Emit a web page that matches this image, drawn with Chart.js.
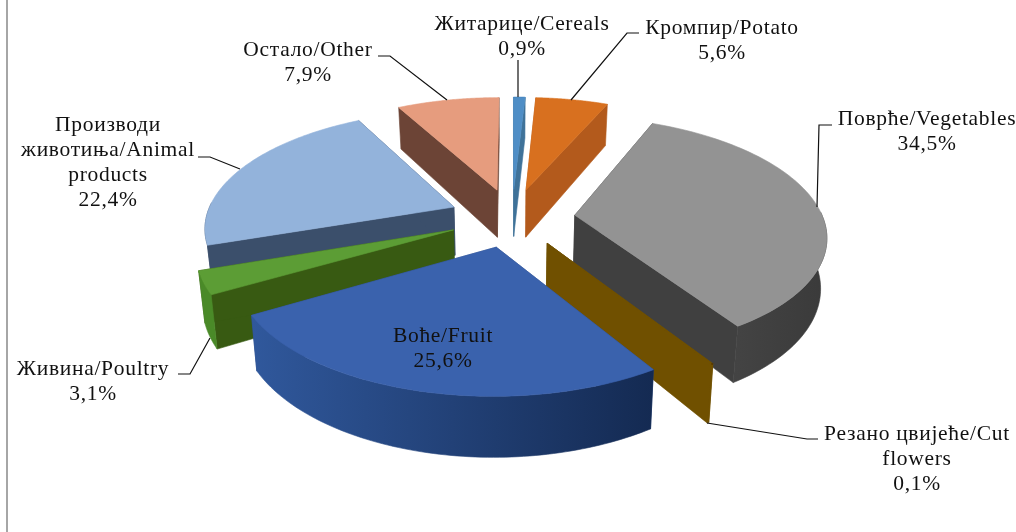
<!DOCTYPE html>
<html>
<head>
<meta charset="utf-8">
<script src="https://cdn.jsdelivr.net/npm/chart.js@4"></script>
<style>
  html, body { margin: 0; background: #fff; overflow: hidden; }
  canvas { display: block; filter: blur(0.4px); }
</style>
</head>
<body>
<canvas id="myChart" width="1016" height="532"></canvas>
<script>
// chart data
const categories = [
  ["Житарице/Cereals"],
  ["Кромпир/Potato"],
  ["Поврће/Vegetables"],
  ["Резано цвијеће/Cut", "flowers"],
  ["Воће/Fruit"],
  ["Живина/Poultry"],
  ["Производи", "животиња/Animal", "products"],
  ["Остало/Other"]
];
const shares = [0.9, 5.6, 34.5, 0.1, 25.6, 3.1, 22.4, 7.9];

// colours per slice
const topColors = ["#4f8ec6", "#d8701f", "#939393", "#705000", "#3a62ad", "#5c9d35", "#93b3db", "#e69c7e"];
const sideColors = ["#3f7299", "#b35a1c", "#404040", "#705000", "#2a4a85", "#385a12", "#3b4f6b", "#6c4436"];
const wallLeft = ["#3f7299", "#b35a1c", "#4c4c4c", "#705000", "#30589c", "#4a8a28", "#3b4f6b", "#6c4436"];
const wallRight = ["#3f7299", "#a85218", "#3a3a3a", "#705000", "#142a52", "#4a8a28", "#3b4f6b", "#6c4436"];

// label placement: centre x, first baseline y
const labelX = [522, 722, 927, 917, 443, 93, 108, 308];
const labelY = [30, 34, 125, 440, 342, 375, 131, 56];
const lineGap = 25;

// leader lines
const leaders = [
  [[518, 60], [518, 97]],
  [[639, 33], [627, 33], [571, 100]],
  [[832, 125], [819, 125], [817, 207]],
  [[818, 439], [807, 439], [707, 423]],
  null,
  [[178, 374], [190, 374], [210, 338]],
  [[198, 157], [210, 157], [240, 169]],
  [[378, 56], [390, 56], [447, 100]]
];

// fake 3D settings, all relative to the pie radius chart.js gives us
const widen = 1.14;
const flatten = 0.529;
const perspective = 0.158;
const explode = 0.255;
const thickness = 49;
const bottomShrink = 0.98;

function project(arc, u, v, lower) {
  const w = 1 / (1 - perspective * v);
  const R = arc.outerRadius;
  const k = lower ? bottomShrink : 1;
  return {
    x: arc.x + R * widen * u * w * k,
    y: arc.y + (R * flatten * v + (lower ? thickness : 0)) * w
  };
}

function fillPath(ctx, pts, color) {
  ctx.beginPath();
  pts.forEach((p, i) => i ? ctx.lineTo(p.x, p.y) : ctx.moveTo(p.x, p.y));
  ctx.closePath();
  ctx.fillStyle = color;
  ctx.strokeStyle = color;
  ctx.lineWidth = 0.6;
  ctx.fill();
  ctx.stroke();
}

function drawSlice(ctx, arc, i) {
  const mid = (arc.startAngle + arc.endAngle) / 2;
  const ou = Math.cos(mid) * explode;
  const ov = Math.sin(mid) * explode;
  const steps = 80;
  const top = [], low = [], wallTop = [], wallLow = [];
  for (let s = 0; s <= steps; s++) {
    const a = arc.startAngle + (arc.endAngle - arc.startAngle) * s / steps;
    const pt = project(arc, ou + Math.cos(a), ov + Math.sin(a), false);
    const pl = project(arc, ou + Math.cos(a), ov + Math.sin(a), true);
    top.push(pt);
    low.push(pl);
    // the back of the rim is hidden, only keep what faces the viewer
    if (Math.sin(a) > -0.05) {
      wallTop.push(pt);
      wallLow.push(pl);
    }
  }
  const apexTop = project(arc, ou, ov, false);
  const apexLow = project(arc, ou, ov, true);

  fillPath(ctx, [apexTop, top[0], low[0], apexLow], sideColors[i]);
  fillPath(ctx, [apexTop, top[steps], low[steps], apexLow], sideColors[i]);

  if (wallTop.length > 1) {
    const xs = top.map(p => p.x);
    const grad = ctx.createLinearGradient(Math.min(...xs), 0, Math.max(...xs), 0);
    grad.addColorStop(0, wallLeft[i]);
    grad.addColorStop(1, wallRight[i]);
    fillPath(ctx, wallTop.concat(wallLow.reverse()), grad);
  }

  fillPath(ctx, [apexTop].concat(top), topColors[i]);
}

const pie3d = {
  id: "pie3d",
  beforeDatasetDraw(chart) {
    const ctx = chart.ctx;
    const arcs = chart.getDatasetMeta(0).data;
    const order = arcs.map((arc, i) => i).sort((a, b) =>
      Math.sin((arcs[a].startAngle + arcs[a].endAngle) / 2) -
      Math.sin((arcs[b].startAngle + arcs[b].endAngle) / 2));
    ctx.save();
    order.forEach(i => drawSlice(ctx, arcs[i], i));
    ctx.restore();
    return false;
  },
  afterDraw(chart) {
    const ctx = chart.ctx;
    ctx.save();
    ctx.strokeStyle = "#a6a6a6";
    ctx.lineWidth = 2;
    ctx.beginPath();
    ctx.moveTo(7, 0);
    ctx.lineTo(7, 532);
    ctx.stroke();

    ctx.strokeStyle = "#111";
    ctx.lineWidth = 1.2;
    leaders.forEach(line => {
      if (!line) return;
      ctx.beginPath();
      line.forEach((p, n) => n ? ctx.lineTo(p[0], p[1]) : ctx.moveTo(p[0], p[1]));
      ctx.stroke();
    });

    ctx.fillStyle = "#111";
    ctx.font = '21.5px "Liberation Serif"';
    ctx.letterSpacing = "0.7px";
    ctx.textAlign = "center";
    ctx.textBaseline = "alphabetic";
    chart.data.labels.forEach((lines, i) => {
      const pct = shares[i].toFixed(1).replace(".", ",") + "%";
      lines.concat([pct]).forEach((t, n) => {
        ctx.fillText(t, labelX[i], labelY[i] + n * lineGap);
      });
    });
    ctx.restore();
  }
};

new Chart(document.getElementById("myChart"), {
  type: "pie",
  data: {
    labels: categories,
    datasets: [{ data: shares, backgroundColor: topColors, borderWidth: 0 }]
  },
  options: {
    responsive: false,
    animation: false,
    rotation: 0,
    layout: { padding: { left: 8, bottom: 97 } },
    plugins: { legend: { display: false }, tooltip: { enabled: false } }
  },
  plugins: [pie3d]
});
</script>
</body>
</html>
